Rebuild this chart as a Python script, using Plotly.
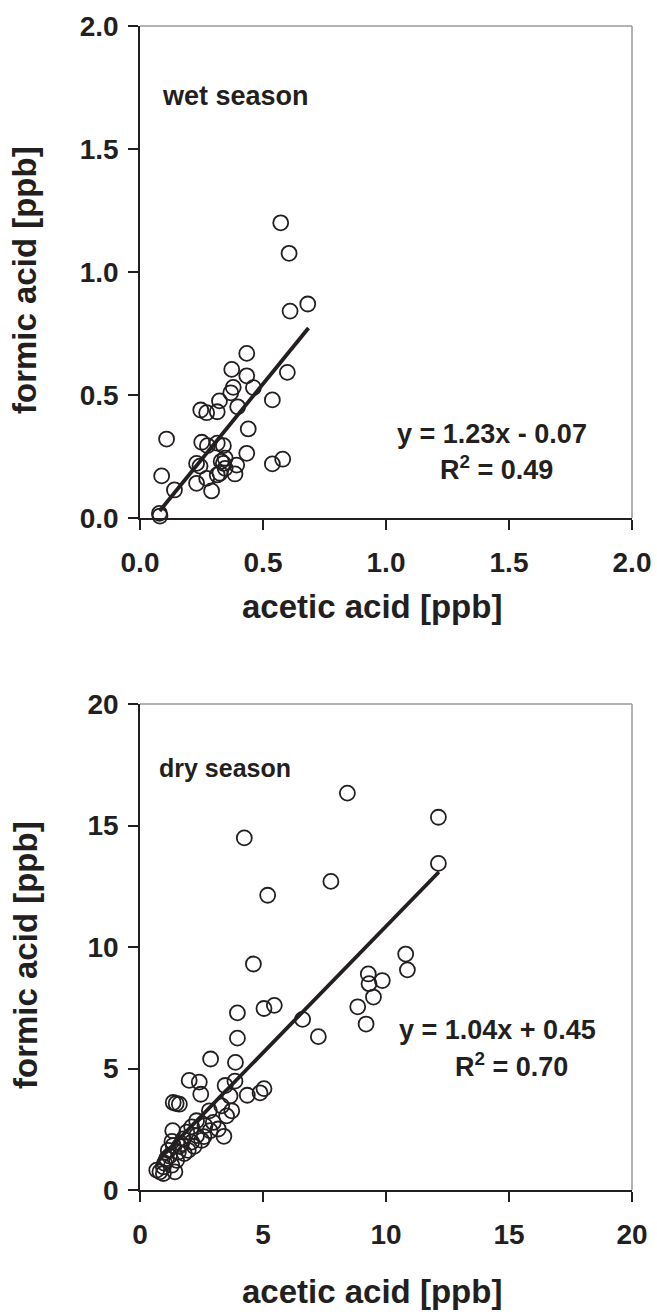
import plotly.graph_objects as go

# ---------------- data ----------------
wet_acetic = [0.572, 0.606, 0.682, 0.610, 0.434, 0.373, 0.434, 0.599, 0.461, 0.379,
              0.369, 0.323, 0.538, 0.247, 0.271, 0.314, 0.397, 0.440, 0.108, 0.251,
              0.274, 0.314, 0.339, 0.434, 0.538, 0.580, 0.230, 0.244, 0.346, 0.339,
              0.393, 0.346, 0.325, 0.386, 0.088, 0.271, 0.230, 0.140, 0.291, 0.314,
              0.079, 0.081, 0.330]
wet_formic = [1.200, 1.076, 0.870, 0.841, 0.669, 0.604, 0.578, 0.592, 0.530, 0.531,
              0.509, 0.476, 0.480, 0.439, 0.428, 0.432, 0.452, 0.362, 0.321, 0.308,
              0.294, 0.304, 0.294, 0.263, 0.220, 0.239, 0.222, 0.211, 0.243, 0.222,
              0.215, 0.202, 0.182, 0.179, 0.171, 0.161, 0.141, 0.114, 0.110, 0.175,
              0.019, 0.008, 0.230]

dry_acetic = [4.24, 5.19, 4.61, 3.96, 5.04, 5.46, 3.96, 2.87, 3.88, 2.00,
              2.41, 2.47, 3.46, 3.86, 3.66, 4.36, 4.88, 5.04, 1.35, 1.60,
              1.47, 2.82, 3.32, 3.73, 3.52, 2.30, 2.98, 3.41, 2.64, 2.85,
              2.51, 1.33, 1.90, 2.10, 1.69, 1.35, 1.15, 1.56, 1.96, 1.08,
              1.49, 1.29, 0.95, 0.81, 0.68, 0.95, 1.42, 1.76, 2.30, 3.18,
              2.10, 1.20, 1.60, 1.00, 1.80, 2.20, 1.30, 2.60,
              8.43, 12.13, 12.13, 7.76, 10.80, 10.87, 9.28, 9.31, 9.85, 9.49,
              8.85, 9.19, 6.61, 7.25]
dry_formic = [14.49, 12.13, 9.30, 7.29, 7.47, 7.60, 6.25, 5.39, 5.25, 4.51,
              4.44, 3.94, 4.30, 4.48, 3.87, 3.90, 4.00, 4.17, 3.60, 3.53,
              3.56, 3.26, 3.46, 3.26, 3.05, 2.85, 2.78, 2.21, 2.65, 2.44,
              2.04, 2.44, 2.38, 1.97, 1.90, 1.83, 1.63, 1.56, 1.63, 1.29,
              1.22, 1.02, 0.95, 0.75, 0.82, 0.68, 0.75, 2.10, 2.24, 2.51,
              2.60, 1.40, 1.80, 1.10, 1.50, 1.80, 2.00, 2.20,
              16.33, 15.34, 13.44, 12.70, 9.71, 9.06, 8.89, 8.49, 8.62, 7.94,
              7.54, 6.83, 7.02, 6.31]

wet_fit = {"slope": 1.23, "intercept": -0.07, "x": [0.08, 0.685]}
dry_fit = {"slope": 1.04, "intercept": 0.45, "x": [0.8, 12.15]}

wet_ticks = [0.0, 0.5, 1.0, 1.5, 2.0]
wet_ticktext = ["0.0", "0.5", "1.0", "1.5", "2.0"]
dry_ticks = [0, 5, 10, 15, 20]
dry_ticktext = ["0", "5", "10", "15", "20"]

# ---------------- layout constants ----------------
W, H = 657, 1316
FONT = "Liberation Sans, Arial, Helvetica, sans-serif"
INK = "#231f20"
GRAY = "#9a9a9a"

def px_x(p):
    return p / W

def px_y(p):
    return 1 - p / H

x_dom = [px_x(140), px_x(632)]
top_dom = [px_y(518), px_y(26)]
bot_dom = [px_y(1190), px_y(704)]

fig = go.Figure()

marker = dict(symbol="circle-open", size=15, color=INK, line=dict(width=1.8, color=INK))

fig.add_trace(go.Scatter(x=wet_acetic, y=wet_formic, mode="markers", marker=marker,
                         xaxis="x", yaxis="y", showlegend=False, cliponaxis=False))
wx = wet_fit["x"]
fig.add_trace(go.Scatter(x=wx, y=[wet_fit["slope"] * v + wet_fit["intercept"] for v in wx],
                         mode="lines", line=dict(color=INK, width=3.8),
                         xaxis="x", yaxis="y", showlegend=False))

fig.add_trace(go.Scatter(x=dry_acetic, y=dry_formic, mode="markers", marker=marker,
                         xaxis="x2", yaxis="y2", showlegend=False, cliponaxis=False))
dx = dry_fit["x"]
fig.add_trace(go.Scatter(x=dx, y=[dry_fit["slope"] * v + dry_fit["intercept"] for v in dx],
                         mode="lines", line=dict(color=INK, width=3.8),
                         xaxis="x2", yaxis="y2", showlegend=False))

tickfont = dict(family=FONT, size=28, color=INK, weight="bold")

def xaxis(dom, anchor, rng, vals, text):
    return dict(domain=dom, anchor=anchor, range=rng, tickvals=vals, ticktext=text,
                ticks="outside", ticklen=10, tickwidth=1.5, tickcolor=INK,
                showline=True, linecolor=INK, linewidth=1.5, showgrid=False,
                zeroline=False, tickfont=tickfont, ticklabelstandoff=9,
                automargin=False, fixedrange=True)

def yaxis(dom, anchor, rng, vals, text):
    return dict(domain=dom, anchor=anchor, range=rng, tickvals=vals, ticktext=text,
                ticks="outside", ticklen=10, tickwidth=1.5, tickcolor=INK,
                showline=True, linecolor=INK, linewidth=1.5, showgrid=False,
                zeroline=False, tickfont=tickfont, ticklabelstandoff=4,
                automargin=False, fixedrange=True)

fig.update_layout(
    width=W, height=H,
    margin=dict(l=0, r=0, t=0, b=0, pad=0),
    paper_bgcolor="white", plot_bgcolor="white",
    xaxis=xaxis(x_dom, "y", [0, 2], wet_ticks, wet_ticktext),
    yaxis=yaxis(top_dom, "x", [0, 2], wet_ticks, wet_ticktext),
    xaxis2=xaxis(x_dom, "y2", [0, 20], dry_ticks, dry_ticktext),
    yaxis2=yaxis(bot_dom, "x2", [0, 20], dry_ticks, dry_ticktext),
)

# gray top/right frame
for dom in (top_dom, bot_dom):
    fig.add_shape(type="line", xref="paper", yref="paper", x0=x_dom[0], x1=x_dom[1],
                  y0=dom[1], y1=dom[1], line=dict(color=GRAY, width=1.5))
    fig.add_shape(type="line", xref="paper", yref="paper", x0=x_dom[1], x1=x_dom[1],
                  y0=dom[0], y1=dom[1], line=dict(color=GRAY, width=1.5))

def txt(x, y, s, size, xanchor="center", angle=0):
    fig.add_annotation(x=px_x(x), y=px_y(y), xref="paper", yref="paper", text=s,
                       showarrow=False, xanchor=xanchor, yanchor="middle", textangle=angle,
                       font=dict(family=FONT, size=size, color=INK, weight="bold"))

# axis titles
txt(372, 606, "acetic acid [ppb]", 33)
txt(25, 280, "formic acid [ppb]", 33, angle=-90)
txt(372, 1291, "acetic acid [ppb]", 33)
txt(25, 955, "formic acid [ppb]", 33, angle=-90)

# panel labels
txt(160, 96, "wet season", 27, xanchor="left")
txt(157, 768, "dry season", 25, xanchor="left")

# regression equations
txt(492, 434, "y = 1.23x - 0.07", 27)
txt(496, 468, "R<sup>2</sup> = 0.49", 27)
txt(497, 1030, "y = 1.04x + 0.45", 27)
txt(511, 1065, "R<sup>2</sup> = 0.70", 27)

fig.write_html("out.html")
